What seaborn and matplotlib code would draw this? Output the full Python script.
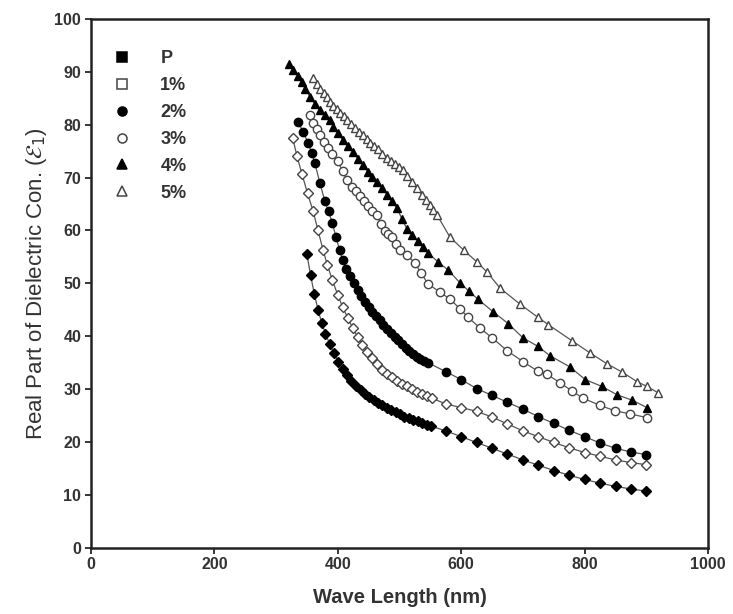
import pandas as pd
import seaborn as sns
import matplotlib.pyplot as plt
from matplotlib.lines import Line2D

# Données (longueur d'onde en nm, partie réelle)
p_x = [350, 356, 362, 368, 374, 380, 387, 394, 401, 408, 415, 422, 430, 437, 444, 451, 458, 465,
       472, 480, 487, 494, 501, 508, 515, 522, 530, 537, 544, 551, 575, 600, 625, 650, 675, 700,
       725, 750, 775, 800, 825, 850, 875, 900]
p_y = [55.5, 51.5, 48.0, 45.0, 42.5, 40.5, 38.5, 36.8, 35.2, 33.8, 32.6, 31.5, 30.6, 29.8, 29.1,
       28.5, 27.9, 27.4, 26.9, 26.4, 26.0, 25.6, 25.2, 24.8, 24.5, 24.2, 23.9, 23.6, 23.3, 23.0,
       22.1, 21.0, 19.9, 18.8, 17.7, 16.6, 15.6, 14.6, 13.7, 12.9, 12.2, 11.6, 11.1, 10.7]

c1_x = [327, 334, 342, 351, 360, 368, 376, 383, 391, 400, 408, 416, 424, 432, 440, 448, 456, 464,
        472, 480, 488, 496, 504, 512, 520, 528, 536, 544, 552, 575, 600, 625, 650, 675, 700, 725,
        750, 775, 800, 825, 850, 875, 900]
c1_y = [77.5, 74.0, 70.7, 67.0, 63.7, 60.0, 56.4, 53.5, 50.7, 47.8, 45.5, 43.5, 41.6, 39.9, 38.4,
        37.0, 35.8, 34.7, 33.7, 32.9, 32.2, 31.6, 31.0, 30.5, 30.0, 29.5, 29.1, 28.7, 28.3, 27.2,
        26.5, 25.8, 24.7, 23.4, 22.1, 21.0, 19.9, 18.9, 18.0, 17.3, 16.6, 16.1, 15.7]

c2_x = [336, 344, 352, 358, 363, 371, 379, 385, 391, 397, 403, 408, 414, 420, 426, 432, 438, 444,
        450, 456, 462, 468, 474, 480, 486, 492, 498, 504, 510, 516, 522, 528, 534, 540, 546, 575,
        600, 625, 650, 675, 700, 725, 750, 775, 800, 825, 850, 875, 900]
c2_y = [80.5, 78.6, 76.6, 74.6, 72.7, 69.0, 65.6, 63.6, 61.5, 58.8, 56.3, 54.4, 52.8, 51.3, 50.0,
        48.8, 47.6, 46.5, 45.5, 44.6, 43.8, 43.0, 42.2, 41.4, 40.6, 39.9, 39.2, 38.5, 37.8, 37.2,
        36.6, 36.1, 35.7, 35.3, 35.0, 33.3, 31.8, 30.1, 28.8, 27.5, 26.2, 24.8, 23.5, 22.2, 21.0,
        19.8, 18.8, 18.1, 17.6]

c3_x = [355, 360, 366, 371, 378, 384, 390, 400, 408, 415, 423, 430, 436, 443, 449, 456, 463, 470,
        476, 482, 488, 495, 501, 512, 525, 535, 546, 565, 582, 598, 611, 630, 650, 674, 700, 724,
        739, 760, 780, 797, 825, 849, 874, 901]
c3_y = [81.9, 80.3, 79.2, 78.0, 76.8, 75.6, 74.5, 73.1, 71.2, 69.5, 68.2, 67.4, 66.6, 65.5, 64.6,
        63.7, 62.9, 61.3, 59.9, 59.3, 58.7, 57.5, 56.4, 55.4, 53.8, 52.0, 49.9, 48.4, 47.0, 45.2,
        43.6, 41.6, 39.7, 37.3, 35.2, 33.4, 32.8, 31.2, 29.6, 28.3, 26.9, 25.9, 25.3, 24.6]

c4_x = [321, 328, 336, 342, 347, 355, 363, 371, 379, 387, 393, 400, 408, 417, 425, 433, 441, 449,
        456, 463, 472, 480, 488, 496, 504, 512, 521, 530, 538, 546, 562, 579, 598, 612, 627, 652,
        676, 700, 724, 744, 776, 801, 828, 853, 877, 901]
c4_y = [91.4, 90.3, 89.2, 88.0, 86.8, 85.3, 83.9, 82.8, 81.8, 80.9, 79.6, 78.4, 77.2, 76.0, 74.8,
        73.5, 72.3, 71.1, 70.1, 69.2, 68.0, 66.8, 65.5, 64.2, 62.2, 60.3, 59.1, 58.0, 56.9, 55.8,
        54.1, 52.5, 50.1, 48.6, 47.0, 44.6, 42.4, 39.7, 38.1, 36.3, 34.2, 31.8, 30.5, 28.9, 27.9,
        26.5]

c5_x = [360, 366, 371, 377, 382, 387, 392, 398, 404, 410, 415, 422, 428, 435, 441, 447, 452, 459,
        465, 472, 480, 487, 493, 499, 505, 512, 520, 528, 536, 543, 549, 555, 561, 582, 604, 626,
        642, 663, 695, 724, 741, 780, 808, 836, 861, 885, 901, 919]
c5_y = [88.8, 87.8, 86.8, 86.0, 85.3, 84.4, 83.5, 82.9, 82.3, 81.6, 80.9, 80.1, 79.4, 78.7, 78.0,
        77.3, 76.6, 76.0, 75.4, 74.5, 73.7, 73.1, 72.5, 72.0, 71.5, 70.3, 69.2, 68.0, 66.8, 65.8,
        64.8, 63.8, 62.9, 58.7, 56.3, 54.0, 52.1, 49.1, 46.1, 43.6, 42.2, 39.1, 36.9, 34.8, 33.2,
        31.4, 30.5, 29.3]

labels = ['P', '1%', '2%', '3%', '4%', '5%']
series_x = [p_x, c1_x, c2_x, c3_x, c4_x, c5_x]
series_y = [p_y, c1_y, c2_y, c3_y, c4_y, c5_y]

# styles : (marqueur du tracé, marqueur de la légende, rempli ?)
styles = [('D', 's', True), ('D', 's', False), ('o', 'o', True),
          ('o', 'o', False), ('^', '^', True), ('^', '^', False)]

sns.set_style("ticks")
plt.rcParams['font.family'] = ['Liberation Sans', 'DejaVu Sans']

fig = plt.figure(figsize=(7.33, 6.14), dpi=100)
ax = fig.add_axes([0.124, 0.108, 0.842, 0.861])

handles = []
for lab, xs, ys, (mk, lmk, filled) in zip(labels, series_x, series_y, styles):
    df = pd.DataFrame({'x': xs, 'y': ys})
    face = 'black' if filled else 'white'
    edge = 'black' if filled else '#444444'
    ms = 5.2 if mk == 'D' else 6
    sns.lineplot(data=df, x='x', y='y', ax=ax, sort=False, color='#555555', linewidth=0.9,
                 marker=mk, markersize=ms, markerfacecolor=face, markeredgecolor=edge,
                 markeredgewidth=1.0)
    handles.append(Line2D([], [], linestyle='none', marker=lmk, markersize=6.5,
                          markerfacecolor=face, markeredgecolor=edge, markeredgewidth=1.1))

ax.set_xlim(0, 1000)
ax.set_ylim(0, 100)
ax.set_xticks([0, 200, 400, 600, 800, 1000])
ax.set_yticks(range(0, 101, 10))
for s in ax.spines.values():
    s.set_linewidth(1.8)
    s.set_color('#222222')
ax.tick_params(axis='both', direction='out', length=4, width=1.3, labelsize=11.5, pad=3)
for t in ax.get_xticklabels() + ax.get_yticklabels():
    t.set_fontweight('bold')
    t.set_color('#333333')

ax.set_xlabel('Wave Length (nm)', fontsize=14.5, fontweight='bold', color='#333333', labelpad=11)
ax.set_ylabel('Real Part of Dielectric Con. ($\\mathcal{E}_1$)', fontsize=16,
              color='#333333', labelpad=4)

leg = ax.legend(handles, labels, loc='upper left', bbox_to_anchor=(0.01, 0.955), frameon=False,
                handletextpad=1.1, labelspacing=0.55, borderaxespad=0,
                prop={'weight': 'bold', 'size': 13})
for t in leg.get_texts():
    t.set_color('#333333')

fig.savefig('out.png', dpi=100)
